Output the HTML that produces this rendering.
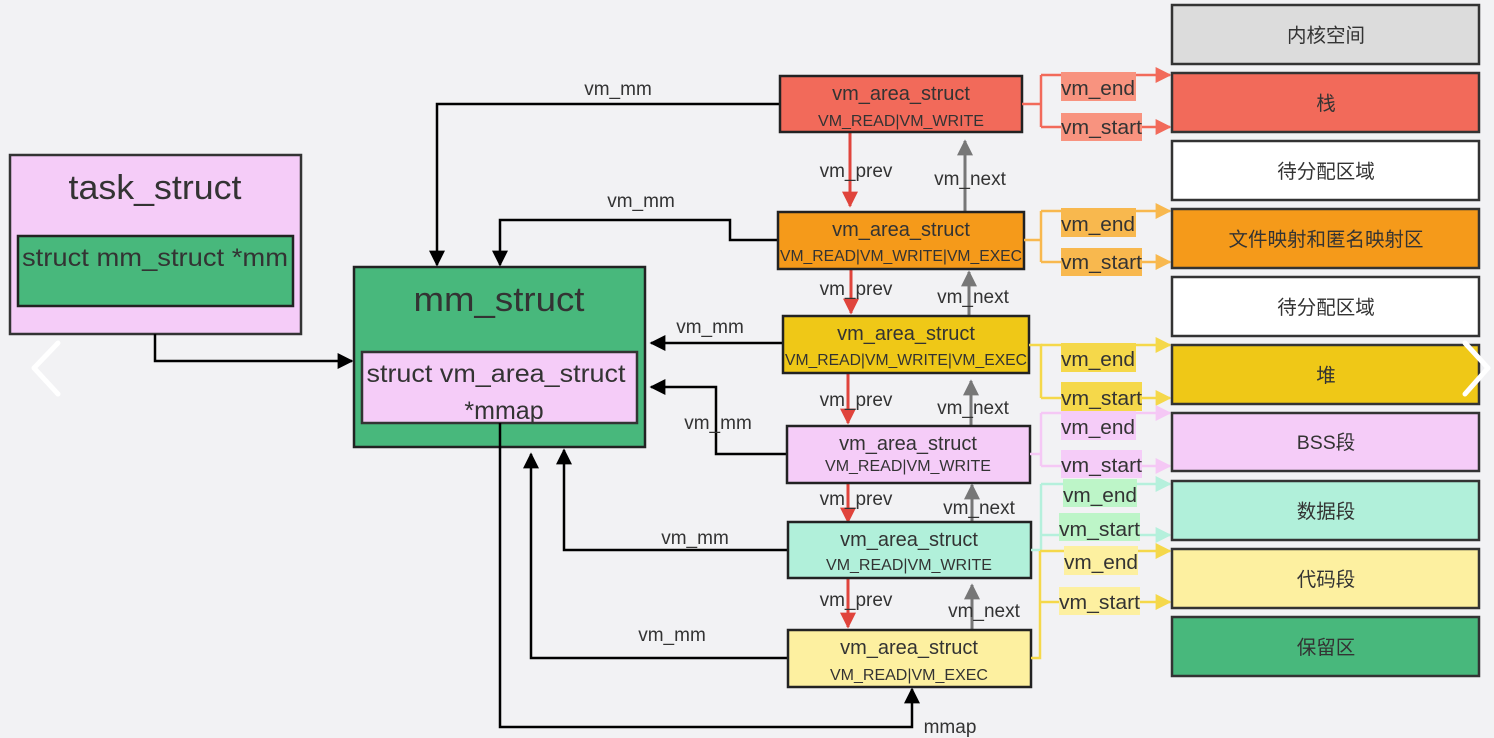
<!DOCTYPE html>
<html><head><meta charset="utf-8"><style>
html,body{margin:0;padding:0;background:#f2f2f4;}
svg{display:block;}
text{font-family:"Liberation Sans","Noto Sans CJK SC",sans-serif;fill:#333;}
</style></head><body>
<svg width="1494" height="738" viewBox="0 0 1494 738" xmlns="http://www.w3.org/2000/svg">
<defs>
<marker id="ab2" viewBox="0 0 10 10" markerWidth="16" markerHeight="16" refX="9" refY="5" orient="auto" markerUnits="userSpaceOnUse"><path d="M0,0 L10,5 L0,10z" fill="#000"/></marker>
<marker id="ar" viewBox="0 0 10 10" markerWidth="16" markerHeight="16" refX="9" refY="5" orient="auto" markerUnits="userSpaceOnUse"><path d="M0,0 L10,5 L0,10z" fill="#e0443c"/></marker>
<marker id="ag" viewBox="0 0 10 10" markerWidth="16" markerHeight="16" refX="9" refY="5" orient="auto" markerUnits="userSpaceOnUse"><path d="M0,0 L10,5 L0,10z" fill="#777"/></marker>
<marker id="c1" viewBox="0 0 10 10" markerWidth="16" markerHeight="16" refX="9" refY="5" orient="auto" markerUnits="userSpaceOnUse"><path d="M0,0 L10,5 L0,10z" fill="#f26a5a"/></marker>
<marker id="c2" viewBox="0 0 10 10" markerWidth="16" markerHeight="16" refX="9" refY="5" orient="auto" markerUnits="userSpaceOnUse"><path d="M0,0 L10,5 L0,10z" fill="#f8b84e"/></marker>
<marker id="c3" viewBox="0 0 10 10" markerWidth="16" markerHeight="16" refX="9" refY="5" orient="auto" markerUnits="userSpaceOnUse"><path d="M0,0 L10,5 L0,10z" fill="#f5d84a"/></marker>
<marker id="c4" viewBox="0 0 10 10" markerWidth="16" markerHeight="16" refX="9" refY="5" orient="auto" markerUnits="userSpaceOnUse"><path d="M0,0 L10,5 L0,10z" fill="#f5c8f5"/></marker>
<marker id="c5" viewBox="0 0 10 10" markerWidth="16" markerHeight="16" refX="9" refY="5" orient="auto" markerUnits="userSpaceOnUse"><path d="M0,0 L10,5 L0,10z" fill="#b5f0dc"/></marker>
</defs>

<!-- task_struct -->
<rect x="10" y="155" width="291" height="179" fill="#f5ccf8" stroke="#333" stroke-width="2.5"/>
<text x="155" y="199" font-size="34" text-anchor="middle" textLength="173" lengthAdjust="spacingAndGlyphs">task_struct</text>
<rect x="18" y="236" width="275" height="70" fill="#48b87c" stroke="#222" stroke-width="2.5"/>
<text x="155" y="266" font-size="25" text-anchor="middle" textLength="266" lengthAdjust="spacingAndGlyphs">struct mm_struct *mm</text>

<!-- mm_struct -->
<rect x="354" y="267" width="291" height="180" fill="#48b87c" stroke="#222" stroke-width="2.5"/>
<text x="499" y="311" font-size="34" text-anchor="middle" textLength="171" lengthAdjust="spacingAndGlyphs">mm_struct</text>
<rect x="362" y="352" width="275" height="71" fill="#f5ccf8" stroke="#333" stroke-width="2.5"/>
<text x="496" y="382" font-size="25" text-anchor="middle" textLength="259" lengthAdjust="spacingAndGlyphs">struct vm_area_struct</text>
<text x="504" y="419" font-size="25" text-anchor="middle">*mmap</text>

<!-- task -> mm -->
<polyline points="155,334 155,361 352,361" fill="none" stroke="#000" stroke-width="2.5" marker-end="url(#ab2)"/>

<!-- vm_mm arrows -->
<g fill="none" stroke="#000" stroke-width="2.5">
<polyline points="780,104 437,104 437,265" marker-end="url(#ab2)"/>
<polyline points="778,240 730,240 730,220 500,220 500,265" marker-end="url(#ab2)"/>
<polyline points="783,343 651,343" marker-end="url(#ab2)"/>
<polyline points="787,454 716,454 716,387 651,387" marker-end="url(#ab2)"/>
<polyline points="788,550 564,550 564,450" marker-end="url(#ab2)"/>
<polyline points="788,658 531,658 531,454" marker-end="url(#ab2)"/>
<polyline points="500,423 500,727 912,727 912,689" marker-end="url(#ab2)"/>
</g>
<g font-size="19" text-anchor="middle" fill="#333">
<text x="618" y="95">vm_mm</text>
<text x="641" y="207">vm_mm</text>
<text x="710" y="333">vm_mm</text>
<text x="718" y="429">vm_mm</text>
<text x="695" y="544">vm_mm</text>
<text x="672" y="641">vm_mm</text>
<text x="950" y="733">mmap</text>
</g>

<!-- prev / next -->
<g fill="none" stroke-width="3">
<line x1="850" y1="132" x2="850" y2="206" stroke="#e0443c" marker-end="url(#ar)"/>
<line x1="965" y1="212" x2="965" y2="141" stroke="#777" marker-end="url(#ag)"/>
<line x1="851" y1="269" x2="851" y2="313" stroke="#e0443c" marker-end="url(#ar)"/>
<line x1="969" y1="316" x2="969" y2="272" stroke="#777" marker-end="url(#ag)"/>
<line x1="848" y1="373" x2="848" y2="423" stroke="#e0443c" marker-end="url(#ar)"/>
<line x1="971" y1="426" x2="971" y2="381" stroke="#777" marker-end="url(#ag)"/>
<line x1="848" y1="483" x2="848" y2="522" stroke="#e0443c" marker-end="url(#ar)"/>
<line x1="972" y1="522" x2="972" y2="485" stroke="#777" marker-end="url(#ag)"/>
<line x1="848" y1="578" x2="848" y2="627" stroke="#e0443c" marker-end="url(#ar)"/>
<line x1="972" y1="630" x2="972" y2="585" stroke="#777" marker-end="url(#ag)"/>
</g>
<g font-size="19" text-anchor="middle" fill="#444">
<text x="856" y="177">vm_prev</text><text x="970" y="185">vm_next</text>
<text x="856" y="295">vm_prev</text><text x="973" y="303">vm_next</text>
<text x="856" y="406">vm_prev</text><text x="973" y="414">vm_next</text>
<text x="856" y="505">vm_prev</text><text x="979" y="514">vm_next</text>
<text x="856" y="606">vm_prev</text><text x="984" y="617">vm_next</text>
</g>

<!-- vm_area boxes -->
<g stroke="#222" stroke-width="2.5">
<rect x="780" y="76" width="242" height="56" fill="#f26a5a"/>
<rect x="778" y="212" width="246" height="57" fill="#f59a1a"/>
<rect x="783" y="316" width="246" height="57" fill="#efc817"/>
<rect x="787" y="426" width="243" height="57" fill="#f5ccf8"/>
<rect x="788" y="522" width="243" height="56" fill="#b1f0da"/>
<rect x="788" y="630" width="243" height="57" fill="#fdf0a0"/>
</g>
<g text-anchor="middle" fill="#333">
<text x="901" y="100" font-size="20">vm_area_struct</text><text x="901" y="126" font-size="16">VM_READ|VM_WRITE</text>
<text x="901" y="236" font-size="20">vm_area_struct</text><text x="901" y="261" font-size="16" textLength="242" lengthAdjust="spacingAndGlyphs">VM_READ|VM_WRITE|VM_EXEC</text>
<text x="906" y="340" font-size="20">vm_area_struct</text><text x="906" y="365" font-size="16" textLength="242" lengthAdjust="spacingAndGlyphs">VM_READ|VM_WRITE|VM_EXEC</text>
<text x="908" y="450" font-size="20">vm_area_struct</text><text x="908" y="471" font-size="16">VM_READ|VM_WRITE</text>
<text x="909" y="546" font-size="20">vm_area_struct</text><text x="909" y="570" font-size="16">VM_READ|VM_WRITE</text>
<text x="909" y="654" font-size="20">vm_area_struct</text><text x="909" y="680" font-size="16">VM_READ|VM_EXEC</text>
</g>

<!-- right connectors -->
<g fill="none" stroke-width="2.5">
<polyline points="1022,104 1041,104" stroke="#f26a5a"/><polyline points="1041,75 1041,127" stroke="#f26a5a"/>
<line x1="1041" y1="75" x2="1170" y2="75" stroke="#f26a5a" marker-end="url(#c1)"/>
<line x1="1041" y1="127" x2="1170" y2="127" stroke="#f26a5a" marker-end="url(#c1)"/>
<polyline points="1024,240 1041,240" stroke="#f8b84e"/><polyline points="1041,211 1041,262" stroke="#f8b84e"/>
<line x1="1041" y1="211" x2="1170" y2="211" stroke="#f8b84e" marker-end="url(#c2)"/>
<line x1="1041" y1="262" x2="1170" y2="262" stroke="#f8b84e" marker-end="url(#c2)"/>
<polyline points="1029,345 1041,345 1041,398" stroke="#f5d84a"/>
<line x1="1041" y1="345" x2="1170" y2="345" stroke="#f5d84a" marker-end="url(#c3)"/>
<line x1="1041" y1="398" x2="1170" y2="398" stroke="#f5d84a" marker-end="url(#c3)"/>
<polyline points="1030,454 1041,454" stroke="#f5c8f5"/><polyline points="1041,413 1041,466" stroke="#f5c8f5"/>
<line x1="1041" y1="413" x2="1170" y2="413" stroke="#f5c8f5" marker-end="url(#c4)"/>
<line x1="1041" y1="466" x2="1170" y2="466" stroke="#f5c8f5" marker-end="url(#c4)"/>
<polyline points="1031,550 1041,550" stroke="#b5f0dc"/><polyline points="1041,484 1041,550" stroke="#b5f0dc"/>
<line x1="1041" y1="484" x2="1170" y2="484" stroke="#b5f0dc" marker-end="url(#c5)"/>
<line x1="1041" y1="535" x2="1170" y2="535" stroke="#b5f0dc" marker-end="url(#c5)"/>
<polyline points="1031,658 1040,658 1040,551" stroke="#f5d84a"/>
<line x1="1040" y1="551" x2="1170" y2="551" stroke="#f5d84a" marker-end="url(#c3)"/>
<line x1="1040" y1="602" x2="1170" y2="602" stroke="#f5d84a" marker-end="url(#c3)"/>
</g>
<g>
<rect x="1061" y="72" width="75" height="29" fill="#f8937f"/><rect x="1061" y="113" width="81" height="28" fill="#f8937f"/>
<rect x="1061" y="208" width="75" height="29" fill="#f8b84e"/><rect x="1061" y="248" width="81" height="28" fill="#f8b84e"/>
<rect x="1061" y="343" width="75" height="29" fill="#f5d84a"/><rect x="1061" y="382" width="81" height="29" fill="#f5d84a"/>
<rect x="1061" y="411" width="75" height="29" fill="#f5ccf8"/><rect x="1061" y="450" width="81" height="28" fill="#f5ccf8"/>
<rect x="1063" y="479" width="74" height="28" fill="#bdf5c8"/><rect x="1059" y="513" width="81" height="28" fill="#bdf5c8"/>
<rect x="1064" y="546" width="74" height="29" fill="#fdf0a0"/><rect x="1059" y="587" width="81" height="28" fill="#fdf0a0"/>
</g>
<g font-size="20" fill="#333">
<text x="1061" y="95" textLength="74" lengthAdjust="spacingAndGlyphs">vm_end</text><text x="1061" y="134" textLength="81" lengthAdjust="spacingAndGlyphs">vm_start</text>
<text x="1061" y="231" textLength="74" lengthAdjust="spacingAndGlyphs">vm_end</text><text x="1061" y="269" textLength="81" lengthAdjust="spacingAndGlyphs">vm_start</text>
<text x="1061" y="366" textLength="74" lengthAdjust="spacingAndGlyphs">vm_end</text><text x="1061" y="405" textLength="81" lengthAdjust="spacingAndGlyphs">vm_start</text>
<text x="1061" y="434" textLength="74" lengthAdjust="spacingAndGlyphs">vm_end</text><text x="1061" y="472" textLength="81" lengthAdjust="spacingAndGlyphs">vm_start</text>
<text x="1063" y="502" textLength="74" lengthAdjust="spacingAndGlyphs">vm_end</text><text x="1059" y="536" textLength="81" lengthAdjust="spacingAndGlyphs">vm_start</text>
<text x="1064" y="569" textLength="74" lengthAdjust="spacingAndGlyphs">vm_end</text><text x="1059" y="609" textLength="81" lengthAdjust="spacingAndGlyphs">vm_start</text>
</g>

<!-- right column -->
<g stroke="#333" stroke-width="2.5">
<rect x="1172" y="5" width="307" height="59" fill="#dcdcdc"/>
<rect x="1172" y="73" width="307" height="59" fill="#f26a5a"/>
<rect x="1172" y="141" width="307" height="59" fill="#ffffff"/>
<rect x="1172" y="209" width="307" height="59" fill="#f59a1a"/>
<rect x="1172" y="277" width="307" height="59" fill="#ffffff"/>
<rect x="1172" y="345" width="307" height="59" fill="#efc817"/>
<rect x="1172" y="413" width="307" height="58" fill="#f5ccf8"/>
<rect x="1172" y="481" width="307" height="59" fill="#b1f0da"/>
<rect x="1172" y="549" width="307" height="59" fill="#fdf0a0"/>
<rect x="1172" y="617" width="307" height="59" fill="#48b87c"/>
</g>
<g font-size="19.5" text-anchor="middle" fill="#333">
<text x="1326" y="42">内核空间</text>
<text x="1326" y="110">栈</text>
<text x="1326" y="178">待分配区域</text>
<text x="1326" y="246">文件映射和匿名映射区</text>
<text x="1326" y="314">待分配区域</text>
<text x="1326" y="382">堆</text>
<text x="1326" y="449">BSS段</text>
<text x="1326" y="518">数据段</text>
<text x="1326" y="586">代码段</text>
<text x="1326" y="654">保留区</text>
</g>

<!-- nav chevrons -->
<polyline points="58,343 34,368 58,394" fill="none" stroke="#fff" stroke-width="5" stroke-linecap="round" stroke-linejoin="round"/>
<polyline points="1465,343 1488,368 1465,394" fill="none" stroke="#fff" stroke-width="5" stroke-linecap="round" stroke-linejoin="round"/>
</svg>
</body></html>
